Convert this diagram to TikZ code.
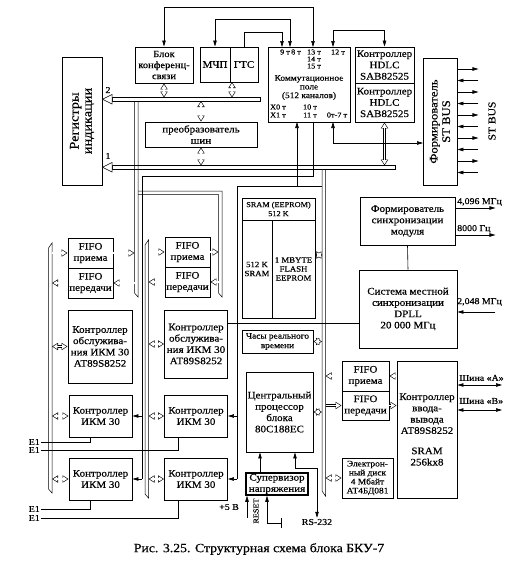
\documentclass[tikz,border=0pt]{standalone}
\usepackage{fontspec}
\setmainfont{Liberation Serif}[FakeStretch=1.1, FakeBold=0.4]
\usetikzlibrary{arrows.meta,calc}

\tikzset{
  blk/.style={draw, line width=0.9pt, align=center, inner sep=0pt,
    font=\fontsize{10}{11.3}\selectfont},
  sml/.style={font=\fontsize{8}{9}\selectfont},
  fld/.style={inner sep=0pt, font=\fontsize{7.5}{7.5}\selectfont},
  lbl/.style={inner sep=1pt, font=\fontsize{9}{10}\selectfont},
  bus/.style={draw, line width=0.5pt},
  bushead/.style={draw, line width=0.5pt, fill=white},
  wire/.style={line width=0.6pt},
  arr/.style={line width=0.6pt, -{Triangle[length=6pt,width=3.5pt]}},
  arr2/.style={line width=0.6pt, {Triangle[length=6pt,width=3.5pt]}-{Triangle[length=6pt,width=3.5pt]}},
  dar/.style={line width=2.8pt, -{Triangle[length=6pt,width=7pt]},
    postaction={draw=white, line width=1.6pt, shorten >=1.2pt,
      -{Triangle[length=4.2pt,width=4.9pt]}}},
  dar2/.style={line width=2.8pt, {Triangle[length=6pt,width=7pt]}-{Triangle[length=6pt,width=7pt]},
    postaction={draw=white, line width=1.6pt, shorten >=1.2pt, shorten <=1.2pt,
      {Triangle[length=4.2pt,width=4.9pt]}-{Triangle[length=4.2pt,width=4.9pt]}}},
}

\begin{document}
\begin{tikzpicture}[x=1pt, y=-1pt]
\useasboundingbox (0,0) rectangle (518,568);

% upper blocks
\node[blk, font=\fontsize{9.5}{11}\selectfont, minimum width=58pt, minimum height=36pt] (conf) at (164,65) {Блок\\конференц-\\связи};
\node[blk, minimum width=30pt, minimum height=35pt] (mchp) at (215,64.5) {МЧП};
\node[blk, minimum width=28pt, minimum height=35pt] (gts) at (244,64.5) {ГТС};
\node[blk, minimum width=82pt, minimum height=75pt] (field) at (309,84.5) {};
\node[blk, minimum width=59pt, minimum height=36pt] (hdlc1) at (384.5,65) {Контроллер\\HDLC\\SAB82525};
\node[blk, minimum width=59pt, minimum height=39pt] (hdlc2) at (384.5,102.5) {Контроллер\\HDLC\\SAB82525};
\node[blk, minimum width=34pt, minimum height=127pt] (stbus) at (440,121.5) {};
\node[rotate=90, align=center, font=\fontsize{11.5}{12.5}\selectfont] (stbustxt) at (stbus) {Формирователь\\ST BUS};
\node[blk, minimum width=40pt, minimum height=128pt] (reg) at (82,121) {};
\node[rotate=90, align=center, font=\fontsize{13}{13}\selectfont] (regtxt) at (reg) {Регистры\\индикации};
\node[blk, minimum width=112pt, minimum height=25pt] (conv) at (201,134.5) {преобразователь\\шин};

% switching field texts
\node[fld] (t9) at (285,52) {9 т};
\node[fld] (t8) at (296,52) {8 т};
\node[fld] (t13) at (314,52) {13 т};
\node[fld] (t12) at (338,52) {12 т};
\node[fld] (t14) at (314,59) {14 т};
\node[fld] (t15) at (314,66) {15 т};
\node[fld, align=center, font=\fontsize{8.5}{8.7}\selectfont] (tkp) at (309,87.5) {Коммутационное\\поле\\(512 каналов)};
\node[fld] (tx0) at (278,107) {X0 т};
\node[fld] (tx1) at (278,115) {X1 т};
\node[fld] (t10) at (310,107) {10 т};
\node[fld] (t11) at (310,115) {11 т};
\node[fld] (t07) at (337,115) {0т-7 т};

% column 1
\node[blk, minimum width=45pt, minimum height=30pt] (rx1) at (90.5,253) {FIFO\\приема};
\node[blk, minimum width=45pt, minimum height=30pt] (tx1) at (90.5,283) {FIFO\\передачи};
\node[blk, minimum width=64pt, minimum height=73pt] (srv1) at (100,346.5) {Контроллер\\обслужива-\\ния ИКМ 30\\AT89S8252};
\node[blk, minimum width=63pt, minimum height=42pt] (ikm11) at (100.5,416) {Контроллер\\ИКМ 30};
\node[blk, minimum width=63pt, minimum height=42pt] (ikm12) at (100.5,479) {Контроллер\\ИКМ 30};

% column 2
\node[blk, minimum width=45pt, minimum height=30pt] (rx2) at (187.5,252) {FIFO\\приема};
\node[blk, minimum width=45pt, minimum height=30pt] (tx2) at (187.5,282) {FIFO\\передачи};
\node[blk, minimum width=63pt, minimum height=68pt] (srv2) at (196,344) {Контроллер\\обслужива-\\ния ИКМ 30\\AT89S8252};
\node[blk, minimum width=63pt, minimum height=42pt] (ikm21) at (196,416) {Контроллер\\ИКМ 30};
\node[blk, minimum width=63pt, minimum height=42pt] (ikm22) at (196,479) {Контроллер\\ИКМ 30};

% processor part
\node[blk, sml, font=\fontsize{7.5}{9}\selectfont, minimum width=73pt, minimum height=22pt] (sramt) at (278.5,209) {SRAM (EEPROM)\\512 K};
\node[blk, sml, minimum width=30pt, minimum height=98pt] (sram) at (257,269) {512 K\\SRAM};
\node[blk, sml, minimum width=43pt, minimum height=98pt] (flash) at (293.5,269) {1 MBYTE\\FLASH\\EEPROM};
\node[blk, sml, font=\fontsize{8.5}{9.5}\selectfont, minimum width=71pt, minimum height=23pt] (clock) at (277.5,341.5) {Часы реального\\времени};
\node[blk, minimum width=67pt, minimum height=80pt] (cpu) at (279.5,412) {Центральный\\процессор\\блока\\80C188EC};
\node[blk, line width=1.6pt, minimum width=62pt, minimum height=22pt] (sup) at (277,484) {Супервизор\\напряжения};

% right part
\node[blk, minimum width=95pt, minimum height=48pt] (syncf) at (407.5,221) {Формирователь\\синхронизации\\модуля};
\node[blk, minimum width=98pt, minimum height=78pt] (dpll) at (408,309) {Система местной\\синхронизации\\DPLL\\20 000 МГц};
\node[blk, minimum width=47pt, minimum height=30pt] (rx3) at (365.5,376) {FIFO\\приема};
\node[blk, minimum width=47pt, minimum height=29pt] (tx3) at (365.5,405.5) {FIFO\\передачи};
\node[blk, minimum width=60pt, minimum height=137pt] (ioc) at (427,429.5) {Контроллер\\ввода-\\вывода\\AT89S8252\\[9pt]SRAM\\256kx8};
\node[blk, font=\fontsize{8.5}{9}\selectfont, minimum width=51pt, minimum height=40pt] (disk) at (367.5,478) {Электрон-\\ный диск\\4 Мбайт\\АТ4БД081};

% labels
\node[lbl] (n2) at (108,90) {2};
\node[lbl] (n1) at (108,156) {1};
\node[lbl, rotate=90, font=\fontsize{10.5}{11}\selectfont] (stlbl) at (492,121) {ST BUS};
\node[lbl, anchor=west] (f4096) at (456,202) {4,096 МГц};
\node[lbl, anchor=west] (f8000) at (456,229) {8000 Гц};
\node[lbl, anchor=west] (f2048) at (456,302) {2,048 МГц};
\node[lbl, anchor=west] (shA) at (458,378) {Шина «А»};
\node[lbl, anchor=west] (shB) at (458,401) {Шина «В»};
\node[lbl, anchor=east] (e1a) at (41,442) {E1};
\node[lbl, anchor=east] (e1b) at (41,450) {E1};
\node[lbl, anchor=east] (e1c) at (41,509) {E1};
\node[lbl, anchor=east] (e1d) at (41,518) {E1};
\node[lbl] (p5) at (229,507) {+5 В};
\node[lbl, rotate=90, font=\fontsize{7.5}{8}\selectfont] (rst) at (256,511) {RESET};
\node[lbl] (rs) at (317,522) {RS-232};
\node[font=\fontsize{12.5}{13}\selectfont] (cap) at (259,549) {Рис. 3.25. Структурная схема блока БКУ-7};

% buses
\coordinate (b2t) at (0,97.5);
\coordinate (b2b) at (0,101);
\coordinate (b1t) at (0,165.5);
\coordinate (b1b) at (0,169);
\draw[bus] (112,97.5) rectangle (260,101);
\draw[bushead] (reg.east |- 0,99.25) -- (112,94.5) -- (112,104) -- cycle;
\draw[bus] (112,165.5) rectangle (395,169);
\draw[bushead] (reg.east |- 0,167.25) -- (112,162.5) -- (112,172) -- cycle;
\draw[bus] (134.5,101) -- (134.5,293) -- (138,297) -- (138,101);
\draw[bus] (138,191) -- (222,191) -- (222,297) -- (218.5,293) -- (218.5,194.5) -- (138,194.5);
\draw[bus] (48.5,248) -- (52,243) -- (52,493) -- (48.5,489) -- cycle;
\draw[bus] (145,245) -- (148.5,240) -- (148.5,498) -- (145,494) -- cycle;
\draw[bus] (322,169) -- (322,491) -- (325.5,496) -- (325.5,169);
\coordinate (c1Le) at (52,0);
\coordinate (c1Rw) at (134.5,0);
\coordinate (c2Le) at (148.5,0);
\coordinate (c2Rw) at (218.5,0);
\coordinate (cbL) at (322,0);
\coordinate (cbR) at (325.5,0);

% links to the horizontal buses
\draw[dar2] (conf.south) -- (conf.south |- b2t);
\draw[dar2] (232,82) -- (232,97.5);
\draw[dar2] (conv.north |- b2b) -- (conv.north);
\draw[dar2] (conv.south) -- (conv.south |- b1t);
\draw[dar2] (hdlc2.south) -- (hdlc2.south |- b1t);

% switching field terminals
\coordinate (f9) at (282,47);
\coordinate (f8) at (290,47);
\coordinate (f13) at (313,47);
\coordinate (f12) at (333,47);
\coordinate (fX) at (297,122);
\coordinate (f11) at (313,122);
\coordinate (f07) at (333,122);
\coordinate (stin) at (423,143);
\draw[arr2] (conf.north) -- ++(0,-39) -| (f13);
\draw[arr2] (mchp.north) -- ++(0,-27) -| (f8);
\draw[arr] (gts.north) -- ++(0,-14) -| (f9);
\draw[arr2] (f12) -- ++(0,-17) -| (hdlc1.north);
\draw[arr2] (f07) |- (stin);

% ST BUS lines
\foreach \k in {0,...,4} {
  \draw[arr] ($(stbus.east)+(0,-52.5+23*\k)$) -- ++(21,0);
  \draw[arr] ($(stbus.east)+(21,-41+23*\k)$) -- ++(-21,0);
}

% column 1 links
\draw[dar] (rx1.west -| c1Le) -- (rx1.west);
\draw[dar] (rx1.east) -- (rx1.east -| c1Rw);
\draw[dar] (tx1.east -| c1Rw) -- (tx1.east);
\draw[dar] (tx1.west) -- (tx1.west -| c1Le);
\draw[dar2] (srv1.west -| c1Le) -- (srv1.west);
\draw[dar2] (ikm11.west -| c1Le) -- (ikm11.west);
\draw[dar2] (ikm12.west -| c1Le) -- (ikm12.west);

% column 2 links
\draw[dar] (rx2.west -| c2Le) -- (rx2.west);
\draw[dar] (rx2.east) -- (rx2.east -| c2Rw);
\draw[dar] (tx2.east -| c2Rw) -- (tx2.east);
\draw[dar] (tx2.west) -- (tx2.west -| c2Le);
\draw[dar2] (srv2.west -| c2Le) -- (srv2.west);
\draw[dar2] (ikm21.west -| c2Le) -- (ikm21.west);
\draw[dar2] (ikm22.west -| c2Le) -- (ikm22.west);

% field lines to the PCM controllers
\coordinate (L1) at (142,176);
\coordinate (L2) at (237,186);
\draw[wire] (f11) |- (L1) -- (L1 |- ikm12.east);
\draw[arr] (L1 |- ikm11.east) -- (ikm11.east);
\draw[arr] (L1 |- ikm12.east) -- (ikm12.east);
\draw[wire] (cbL |- L2) -- (L2) -- (L2 |- ikm22.east);
\draw[arr] (fX |- L2) -- (fX);
\draw[arr] (L2 |- ikm21.east) -- (ikm21.east);
\draw[arr] (L2 |- ikm22.east) -- (ikm22.east);

% E1 lines
\draw[wire] (e1a.east) -| ($(ikm11.south)+(-10,0)$);
\draw[wire] (e1b.east) -| ($(ikm21.south)+(-18,0)$);
\draw[wire] (e1c.east) -| ($(ikm12.south)+(-10,0)$);
\draw[wire] (e1d.east) -| ($(ikm22.south)+(-18,0)$);

% processor bus links
\draw[dar2] ($(flash.east)+(0,-14)$) -- ($(flash.east)+(7,-14)$);
\draw[dar2] (clock.east) -- (clock.east -| cbL);
\draw[dar2] (cpu.east) -- (cpu.east -| cbL);
\draw[dar2] (disk.west -| cbR) -- (disk.west);
\draw[dar] (rx3.west) -- (rx3.west -| cbR);
\draw[dar] (ioc.west |- rx3.east) -- (rx3.east);
\draw[dar] (tx3.west -| cbR) -- (tx3.west);
\draw[dar] (tx3.east) -- (tx3.east -| ioc.west);

% synchronisation
\draw[wire] ($(srv2.east)+(0,-21)$) -- ($(dpll.west)+(0,14)$);
\draw[wire] (syncf.south) -- (dpll.north);
\draw[arr] ($(syncf.east)+(0,-13)$) -- ++(40,0);
\draw[arr] ($(syncf.east)+(0,14)$) -- ++(40,0);
\draw[arr] ($(dpll.east)+(38,3)$) -- ($(dpll.east)+(0,3)$);
\draw[arr2] (ioc.east |- 0,385) -- (502,385);
\draw[arr2] (ioc.east |- 0,410) -- (502,410);

% supervisor, reset and RS-232
\draw[arr] ($(sup.north)+(-17,0)$) -- ($(cpu.south)+(-19.5,0)$);
\draw[arr2] ($(cpu.south)+(15.5,0)$) -- ++(0,16) -| (rs.north);
\draw[arr] ($(sup.south)+(-30,22)$) -- ($(sup.south)+(-30,0)$);
\draw[arr] ($(sup.south)+(-10,27)$) -- ($(sup.south)+(-10,0)$);
\draw[wire] ($(sup.south)+(-10,27)$) -- ++(14,0) ++(0,-5) -- ++(0,10);

\end{tikzpicture}
\end{document}
